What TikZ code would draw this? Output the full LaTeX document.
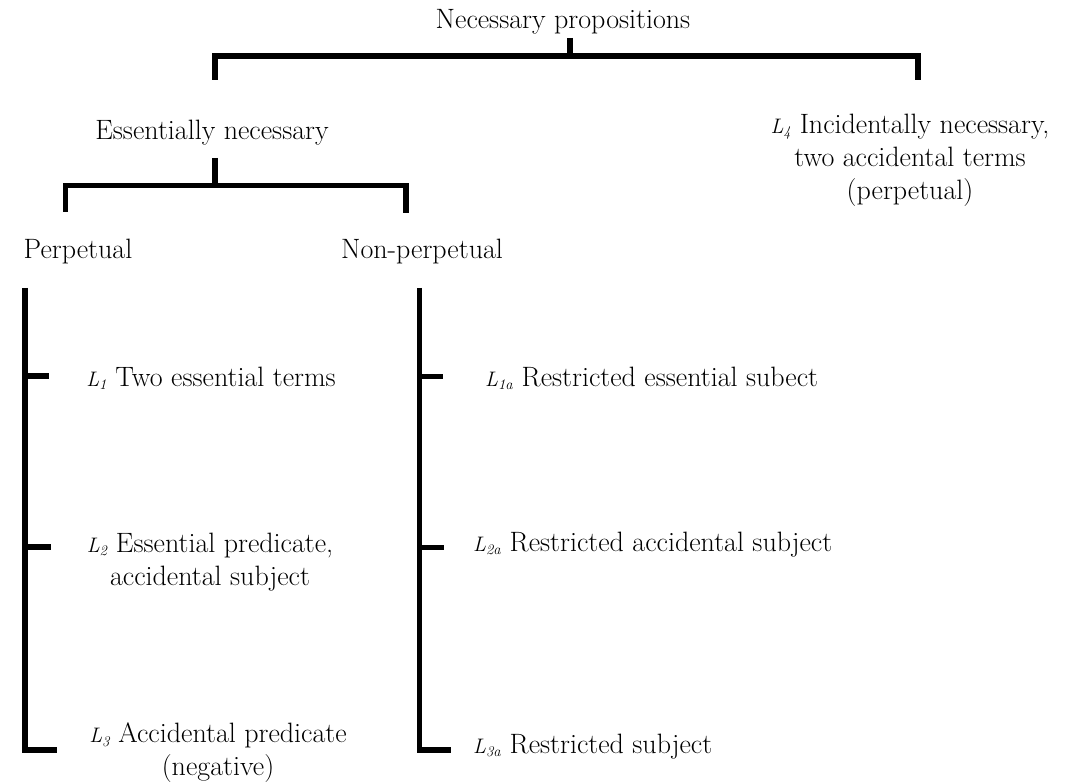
\documentclass[tikz,border=0pt]{standalone}
\usepackage{fontspec}
\newcommand\Lab[1]{{\fontsize{21}{24}\selectfont\itshape L\textsubscript{#1}}}
\begin{document}
\begin{tikzpicture}[x=1pt,y=-1pt,
  txt/.style={inner sep=0pt, font=\fontsize{28}{33}\selectfont, align=center},
  brk/.style={line width=5.5pt, line join=miter, line cap=butt}]
\useasboundingbox (0,0) rectangle (1067,783);
% text
\node[txt] (np) at (563,22) {Necessary propositions};
\node[txt] (en) at (212,133) {Essentially necessary};
\node[txt] (l4) at (910,160) {\Lab{4} Incidentally necessary,\\ two accidental terms\\ (perpetual)};
\node[txt] (pp) at (78,252) {Perpetual};
\node[txt] (npp) at (422,252) {Non-perpetual};
\node[txt] (l1) at (211,378) {\Lab{1} Two essential terms};
\node[txt] (l2) at (210,562) {\Lab{2} Essential predicate,\\ accidental subject};
\node[txt] (l3) at (218,753) {\Lab{3} Accidental predicate\\ (negative)};
\node[txt,anchor=west] (l1a) at (485,378) {\Lab{1a} Restricted essential subect};
\node[txt,anchor=west] (l2a) at (473,545) {\Lab{2a} Restricted accidental subject};
\node[txt,anchor=west] (l3a) at (473,747) {\Lab{3a} Restricted subject};
% bracket points
\coordinate (s0) at (570,38);
\coordinate (s1) at (570,56);
\coordinate (a0) at (215,80);
\coordinate (a1) at (215,56);
\coordinate (b1) at (918,56);
\coordinate (b0) at (918,80);
\coordinate (e0) at (215,158);
\coordinate (e1) at (215,185.5);
\coordinate (c0) at (65.5,212);
\coordinate (c1) at (65.5,185.5);
\coordinate (d1) at (406,185.5);
\coordinate (d0) at (406,213);
\coordinate (p0) at (25,288);
\coordinate (p3) at (25,750);
\coordinate (p3e) at (57,750);
\coordinate (p1) at (25,376);
\coordinate (p1e) at (49,376);
\coordinate (p2) at (25,547);
\coordinate (p2e) at (51,547);
\coordinate (q0) at (419.5,288);
\coordinate (q3) at (419.5,750);
\coordinate (q3e) at (451,750);
\coordinate (q1) at (419.5,376.5);
\coordinate (q1e) at (443,376.5);
\coordinate (q2) at (419.5,547.5);
\coordinate (q2e) at (444,547.5);
% brackets
\draw[brk] (s0) -- (s1);
\draw[brk] (a0) -- (a1) -- (b1) -- (b0);
\draw[brk] (e0) -- (e1);
\draw[brk] (c0) -- (c1) -- (d1) -- (d0);
\draw[brk] (p0) -- (p3) -- (p3e);
\draw[brk] (p1) -- (p1e);
\draw[brk] (p2) -- (p2e);
\draw[brk] (q0) -- (q3) -- (q3e);
\draw[brk] (q1) -- (q1e);
\draw[brk] (q2) -- (q2e);
\end{tikzpicture}
\end{document}
